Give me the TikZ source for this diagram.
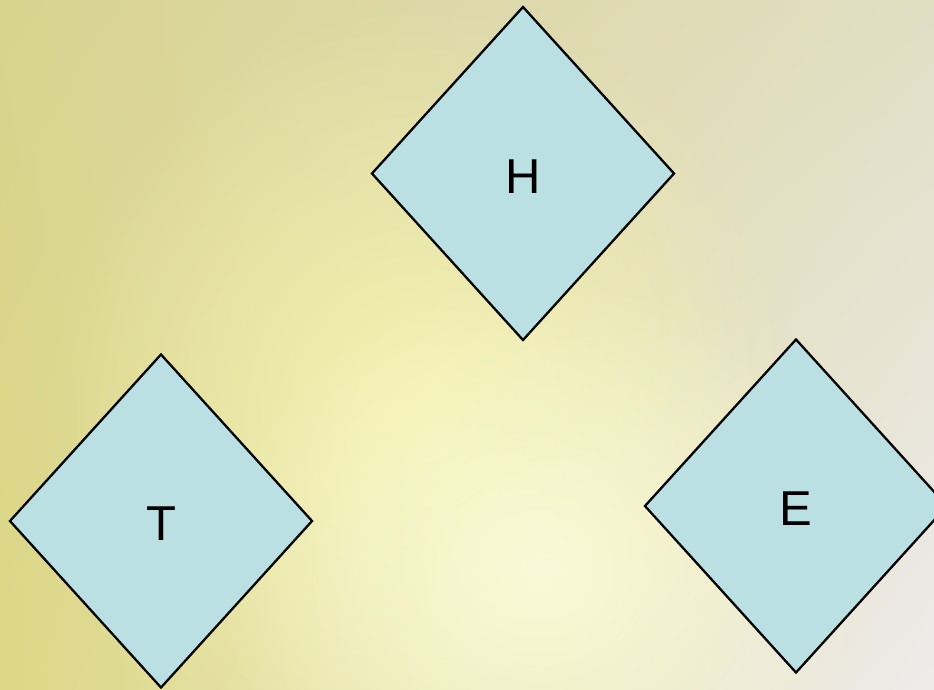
\documentclass[tikz,border=0pt]{standalone}
\usepackage{fontspec}
\setmainfont{Liberation Sans}
\usetikzlibrary{shapes.geometric,fadings,shadings}
\definecolor{diafill}{HTML}{BAE0E3}
\definecolor{bgTL}{HTML}{D8D38E}
\definecolor{bgBL}{HTML}{DDD886}
\definecolor{bgTR}{HTML}{E2DEC4}
\definecolor{bgBR}{HTML}{EEEBEB}
\definecolor{glowy}{HTML}{F5F2AE}
\definecolor{glowc}{HTML}{FAFAD8}
\tikzfading[name=glowfade, inner color=transparent!0, outer color=transparent!100]
\tikzset{
  dia/.style={diamond, draw=black, line width=2.3pt, fill=diafill, inner sep=0pt,
    minimum width=303pt, minimum height=334pt},
  lbl/.style={font=\fontsize{49}{55}\selectfont, text=black, inner sep=0pt}
}
\begin{document}
\begin{tikzpicture}[x=1pt,y=1pt]
\useasboundingbox (0,0) rectangle (934,-690);
\begin{scope}
\clip (0,0) rectangle (934,-690);
\shade[upper left=bgTL, upper right=bgTR, lower left=bgBL, lower right=bgBR] (0,0) rectangle (934,-690);
\fill[glowy, path fading=glowfade] (420,-420) ellipse [x radius=380, y radius=420];
\fill[glowc, path fading=glowfade] (540,-570) ellipse [x radius=330, y radius=300];
\node[dia] (H) at (523,-173.5) {};
\node[dia] (T) at (161,-521) {};
\node[dia] (E) at (796,-506) {};
\end{scope}
\node[lbl] (Ht) at ([yshift=-3pt]H.center) {H};
\node[lbl] (Tt) at ([yshift=-3pt]T.center) {T};
\node[lbl] (Et) at ([yshift=-3pt]E.center) {E};
\end{tikzpicture}
\end{document}
